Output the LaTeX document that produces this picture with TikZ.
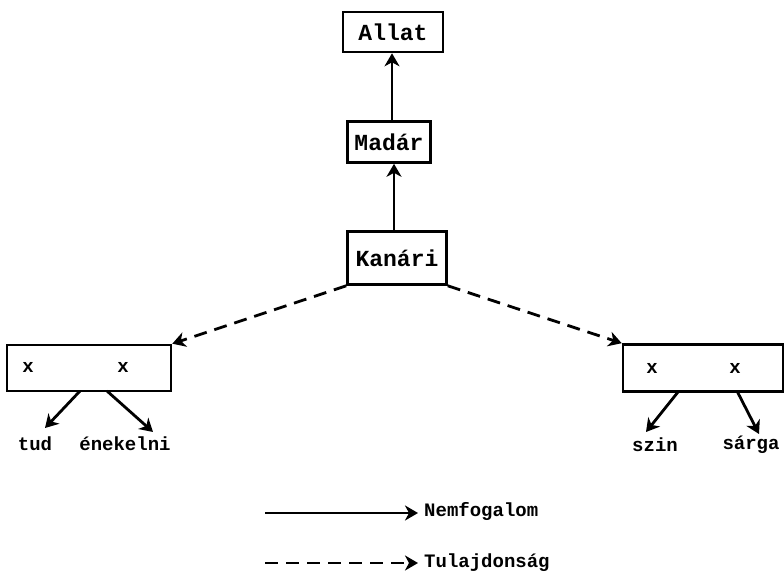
\documentclass[tikz,border=0pt]{standalone}
\usepackage{fontspec}
\setmonofont{Liberation Mono}
\usetikzlibrary{arrows.meta}
\tikzset{
	fogalom/.style={draw,line width=2.6pt,inner sep=0pt,font=\ttfamily\bfseries\fontsize{23}{26}\selectfont},
	cimke/.style={inner sep=0pt,font=\ttfamily\bfseries\fontsize{19}{22}\selectfont},
	nyil/.style={line width=2.8pt,-{Stealth[length=13pt,width=15pt,inset=4pt]}},
	szaggatott/.style={nyil,dash pattern=on 13pt off 8pt}
}
\begin{document}
\begin{tikzpicture}[x=1pt,y=-1pt]
		\useasboundingbox (0,0) rectangle (784,573);
		%fogalmak
		\draw (393,32) node[fogalom,minimum width=100pt,minimum height=40pt](allat){Allat};
		\draw (389,142) node[fogalom,minimum width=83pt,minimum height=41pt](madar){Madár};
		\draw (397,258) node[fogalom,minimum width=99pt,minimum height=53pt](kanari){Kanári};
		\draw (89,368) node[fogalom,minimum width=164pt,minimum height=46pt](bal){};
		\draw (703,368) node[fogalom,minimum width=160pt,minimum height=47pt](jobb){};
		\draw (28,367) node[cimke](bal-1){x} (123,367) node[cimke](bal-2){x};
		\draw (652,368) node[cimke](jobb-1){x} (735,368) node[cimke](jobb-2){x};
		%tulajdonsagok
		\draw (35,444) node[cimke](tud){tud} (125,444) node[cimke](enekelni){énekelni};
		\draw (655,445) node[cimke](szin){szin} (751,445) node[cimke](sarga){sárga};
		\coordinate (bal-a) at (80,391);
		\coordinate (bal-b) at (107,391);
		\coordinate (jobb-a) at (678,392);
		\coordinate (jobb-b) at (737,391);
		%kapcsolatok
		\draw[nyil] ([xshift=-3pt]kanari.north) -- ([xshift=5pt]madar.south);
		\draw[nyil] ([xshift=3pt]madar.north) -- ([xshift=-1pt]allat.south);
		\draw[szaggatott] (kanari.south west) -- (bal.north east);
		\draw[szaggatott] (kanari.south east) -- (jobb.north west);
		\draw[nyil] (bal-a) -- (45,428);
		\draw[nyil] (bal-b) -- (153,432);
		\draw[nyil] (jobb-a) -- (646,432);
		\draw[nyil] (jobb-b) -- (759,434);
		%jelmagyarazat
		\coordinate (j-1) at (265,513);
		\coordinate (j-2) at (265,563);
		\draw (424,511) node[cimke,anchor=west](nemfogalom){Nemfogalom};
		\draw (424,563) node[cimke,anchor=west](tulajdonsag){Tulajdonság};
		\draw[nyil] (j-1) -- ([xshift=-6pt]nemfogalom.west |- j-1);
		\draw[szaggatott] (j-2) -- ([xshift=-6pt]tulajdonsag.west);
\end{tikzpicture}
\end{document}
